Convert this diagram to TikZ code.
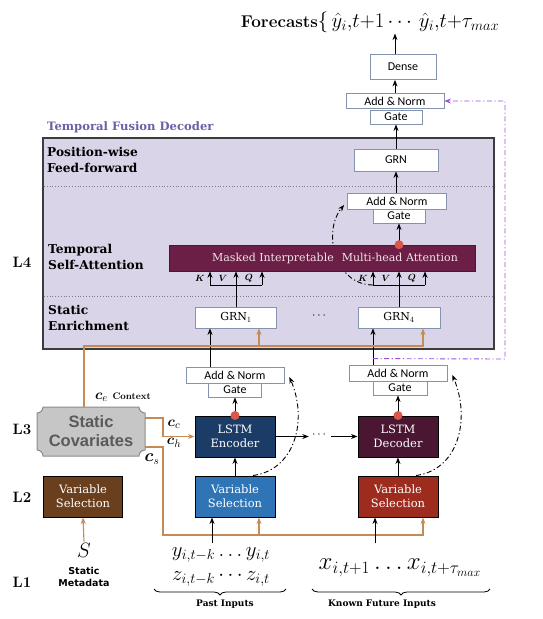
\documentclass[tikz,border=0pt]{standalone}
\usepackage{fontspec}
\usepackage{amsmath,bm}
\usetikzlibrary{arrows.meta,decorations.pathreplacing,calc}
\newfontfamily\carl{Carlito}
\newfontfamily\dser{DejaVu Serif}
\newfontfamily\lsans{Liberation Sans}
\newfontfamily\dsans{DejaVu Sans}
\newcommand\fsz[2]{\fontsize{#1}{#2}\selectfont}
\definecolor{lav}{HTML}{D9D4E7}
\definecolor{tfd}{HTML}{6B5FA8}
\definecolor{attc}{HTML}{6C1F46}
\definecolor{attt}{HTML}{F4E1EA}
\definecolor{encc}{HTML}{1A3C66}
\definecolor{decc}{HTML}{4A1632}
\definecolor{vss}{HTML}{6A3F1E}
\definecolor{vsp}{HTML}{2F75B6}
\definecolor{vsf}{HTML}{9D2B1E}
\definecolor{orl}{HTML}{C58A55}
\definecolor{redd}{HTML}{D9584A}
\definecolor{purp}{HTML}{9B4FE0}
\definecolor{bordc}{HTML}{8594AE}
\definecolor{scf}{HTML}{C6C6C6}
\definecolor{scd}{HTML}{8C8C8C}
\definecolor{sct}{HTML}{5A5A5A}
\definecolor{framec}{HTML}{3C3C3C}
\begin{document}
\begin{tikzpicture}[x=1pt,y=-1pt,
  arr/.style={-{Stealth[length=6.5pt,width=5pt]},line width=0.9pt},
  oarr/.style={-{Stealth[length=6.5pt,width=5pt]},line width=1.1pt,draw=orl},
  oline/.style={line width=1.1pt,draw=orl},
  wbox/.style={draw=bordc,fill=white,line width=0.8pt,inner sep=0pt,font=\carl\fsz{12}{14}},
  cbox/.style={draw=black,line width=1pt,inner sep=0pt,text=white,align=center,font=\dser\fsz{11.5}{14},minimum width=80,minimum height=41},
  seclab/.style={font=\dser\bfseries\fsz{12.2}{16.5},align=left,anchor=north west,inner sep=0pt},
  Llab/.style={font=\bfseries\fsz{15}{17},inner sep=0pt},
  ddline/.style={line width=0.9pt,dash pattern=on 5pt off 2.5pt on 1.2pt off 2.5pt},
  rdot/.style={circle,fill=redd,inner sep=0pt,minimum size=9pt},
  brc/.style={decorate,decoration={brace,amplitude=6pt,mirror},line width=0.8pt},
  kvq/.style={font=\fsz{9.5}{10},inner sep=0pt},
]
\useasboundingbox (0,0) rectangle (542,619);
% decoder frame
\draw[fill=lav,draw=framec,line width=1.2pt] (43,138) rectangle (494,349);
\draw[gray,line width=0.8pt,dash pattern=on 0.8pt off 2pt] (44,186) -- (493,186);
\draw[gray,line width=0.8pt,dash pattern=on 0.8pt off 2pt] (44,296) -- (493,296);
\node[font=\dser\bfseries\fsz{11.6}{13},text=tfd,anchor=west,inner sep=0pt] (tfdl) at (47,127) {Temporal Fusion Decoder};
\node[seclab] (pw) at (47,147) {Position-wise\\Feed-forward};
\node[seclab] (tsa) at (48,244) {Temporal\\Self-Attention};
\node[seclab] (se) at (48,305) {Static\\Enrichment};
% L labels
\node[Llab] (L4) at (22,262) {L4};
\node[Llab] (L3) at (22,429) {L3};
\node[Llab] (L2) at (22,497) {L2};
\node[Llab] (L1) at (22,582) {L1};
% title
\node[inner sep=1pt] (fc) at (370,22) {\fsz{17}{20}\textbf{Forecasts}\fsz{21}{24}$\{\,\hat{y}_i{,}t{+}1\cdots\,\hat{y}_i{,}t{+}\tau_{max}$};
% top stack
\node[wbox,minimum width=66,minimum height=25] (dense) at (403,67) {Dense};
\node[wbox,minimum width=98,minimum height=15] (an3) at (395,101) {Add \& Norm};
\node[wbox,minimum width=52,minimum height=14] (g3) at (396,117) {Gate};
\node[wbox,minimum width=84,minimum height=22] (grn) at (396,160) {GRN};
\node[wbox,minimum width=99,minimum height=16] (an2) at (397,201) {Add \& Norm};
\node[wbox,minimum width=52,minimum height=14] (g2) at (399,216) {Gate};
% attention residual
\coordinate (kR) at (373,285);
\draw[ddline,-{Stealth[length=6.5pt,width=5pt]}] (kR) .. controls (335,285) and (322,232) .. ($(an2.west)+(-3,4)$);
\node[fill=attc,draw=attc!70!black,line width=0.6pt,minimum width=306,minimum height=26,inner sep=0pt,text=attt,font=\dser\fsz{11}{12}] (att) at (322,258) {\hspace*{26pt}Masked Interpretable\hspace{8pt}Multi-head Attention};
\node[wbox,font=\dser\fsz{11}{12},minimum width=81,minimum height=21] (grn1) at (236,317.5) {GRN$_1$};
\node[wbox,font=\dser\fsz{11}{12},minimum width=82,minimum height=21] (grn4) at (399,317.5) {GRN$_4$};
\node[font=\fsz{12}{14}] (edots) at (320,316) {$\cdots$};
% K V Q left
\coordinate (b1) at (236,285);
\draw[arr] (grn1.north) -- (grn1.north |- att.south);
\draw[line width=0.9pt] ([xshift=-26pt]b1) -- ([xshift=26pt]b1);
\draw[arr] ([xshift=-26pt]b1) -- ([xshift=-26pt]b1 |- att.south);
\draw[arr] ([xshift=26pt]b1) -- ([xshift=26pt]b1 |- att.south);
\node[kvq] (k1) at (200,278) {$\bm{K}$};
\node[kvq] (v1) at (223,278) {$\bm{V}$};
\node[kvq] (q1) at (249,278) {$\bm{Q}$};
% K V Q right
\coordinate (b4) at (399,285);
\draw[arr] (grn4.north) -- (grn4.north |- att.south);
\draw[line width=0.9pt] ([xshift=-26pt]b4) -- ([xshift=26pt]b4);
\draw[arr] ([xshift=-26pt]b4) -- ([xshift=-26pt]b4 |- att.south);
\draw[arr] ([xshift=26pt]b4) -- ([xshift=26pt]b4 |- att.south);
\node[kvq] (k4) at (363,278) {$\bm{K}$};
\node[kvq] (v4) at (386,278) {$\bm{V}$};
\node[kvq] (q4) at (412,278) {$\bm{Q}$};
% top arrows
\draw[arr] (att.north -| g2.south) -- (g2.south);
\node[rdot] (dA) at (att.north -| g2.south) {};
\draw[arr] (an2.north -| grn.south) -- (grn.south);
\draw[arr] (grn.north) -- (g3.south -| grn.north);
\draw[arr] (an3.north) -- (dense.south -| an3.north);
\draw[arr] (dense.north -| an3.north) -- (fc.south -| an3.north);
% encoder / decoder
\node[wbox,minimum width=98,minimum height=16] (an1) at (235,375) {Add \& Norm};
\node[wbox,minimum width=53,minimum height=14] (g1) at (235,390) {Gate};
\node[wbox,minimum width=98,minimum height=16] (anD) at (398,373) {Add \& Norm};
\node[wbox,minimum width=54,minimum height=14] (gD) at (400,388) {Gate};
\node[cbox,fill=encc] (lstmE) at (235,436.5) {LSTM\\Encoder};
\node[cbox,fill=decc] (lstmD) at (398,436.5) {LSTM\\Decoder};
\node[cbox,fill=vss,minimum width=79] (vsS) at (83,496.5) {Variable\\Selection};
\node[cbox,fill=vsp] (vsP) at (235,496.5) {Variable\\Selection};
\node[cbox,fill=vsf] (vsF) at (398,496.5) {Variable\\Selection};
\draw[arr] (vsP.north) -- (lstmE.south);
\draw[arr] (vsF.north) -- (lstmD.south);
\draw[arr] (lstmE.north) -- (g1.south);
\node[rdot] (dE) at (lstmE.north) {};
\draw[arr] (lstmD.north) -- (gD.south -| lstmD.north);
\node[rdot] (dD) at (lstmD.north) {};
\draw[arr] ([xshift=-25pt]an1.north) -- ([xshift=-25pt]an1.north |- grn1.south);
\draw[arr] ([xshift=-25pt]anD.north) -- ([xshift=-25pt]anD.north |- grn4.south);
\draw[ddline,-{Stealth[length=6.5pt,width=5pt]}] ([xshift=18pt]vsP.north) .. controls (295,470) and (308,420) .. ($(an1.east)+(5,2)$);
\draw[ddline,-{Stealth[length=6.5pt,width=5pt]}] ([xshift=18pt]vsF.north) .. controls (458,470) and (471,420) .. ($(anD.east)+(5,2)$);
\node[font=\fsz{12}{14},inner sep=3pt] (ldots) at (320,435) {$\cdots$};
\draw[arr] (lstmE.east) -- (ldots.west |- lstmE.east);
\draw[arr] (ldots.east |- lstmD.west) -- (lstmD.west);
% purple skip
\coordinate (pst) at ($(anD.north)+(-25,-6)$);
\coordinate (pc1) at (505,359);
\coordinate (pc2) at (505,101);
\draw[ddline,draw=purp,-{Stealth[length=6.5pt,width=5pt]}] (pst) -- (pc1) -- (pc2) -- (an3.east);
% static covariates
\path[fill=scf,draw=scd,line width=1pt] (43,407) -- (139,407) .. controls (139,410.3) and (141.7,413) .. (145,413) -- (145,450) .. controls (141.7,450) and (139,452.7) .. (139,456) -- (43,456) .. controls (43,452.7) and (40.3,450) .. (37,450) -- (37,413) .. controls (40.3,413) and (43,410.3) .. (43,407) -- cycle;
\node[font=\lsans\bfseries\fsz{16.5}{19},text=sct,align=center,inner sep=0pt,minimum width=108,minimum height=49] (sc) at (91,431.5) {Static\\Covariates};
% orange context lines
\coordinate (ctxc) at (84,346);
\coordinate (o1) at (259,346);
\coordinate (o4) at (423,346);
\draw[oarr] (sc.north -| ctxc) -- (ctxc) -- (o4) -- (o4 |- grn4.south);
\draw[oarr] (o1) -- (o1 |- grn1.south);
\coordinate (cc1) at (145,418);
\coordinate (cc2) at (163,418);
\draw[oarr] (cc1) -- (cc2) -- (cc2 |- lstmE.west) -- (lstmE.west);
\coordinate (cs1) at (145,447);
\coordinate (cs2) at (163,447);
\coordinate (cs3) at (163,535);
\coordinate (s1) at (259,535);
\coordinate (s4) at (423,535);
\draw[oarr] (cs1) -- (cs2) -- (cs3) -- (s4) -- (s4 |- vsF.south);
\draw[oarr] (s1) -- (s1 |- vsP.south);
\node[inner sep=0pt] (cel) at (123,397) {\fsz{15}{17}$\bm{c}_e$ \textbf{\fsz{9.5}{10}Context}};
\node[font=\fsz{15}{17},inner sep=0pt] (ccl) at (174,424) {$\bm{c}_c$};
\node[font=\fsz{15}{17},inner sep=0pt] (chl) at (174,443) {$\bm{c}_h$};
\node[font=\fsz{16}{17},inner sep=0pt] (csl) at (152,459) {$\bm{c}_s$};
% inputs
\node[font=\fsz{20}{22},inner sep=1pt] (S) at (84,550) {$S$};
\draw[oarr] (S.north) -- (vsS.south);
\node[font=\dsans\bfseries\fsz{9.5}{12},align=center,inner sep=0pt] (meta) at (84,577) {Static\\Metadata};
\node[font=\fsz{22}{24.5},align=center,inner sep=0pt] (past) at (221,567) {$y_{i,t-k}\ldots y_{i,t}$\\$z_{i,t-k}\cdots z_{i,t}$};
\node[font=\fsz{24}{26},inner sep=0pt] (fut) at (400,568) {$x_{i,t+1}\ldots x_{i,t+\tau_{max}}$};
\draw[arr] ([xshift=-23pt]vsP.south |- 0,543) -- ([xshift=-23pt]vsP.south);
\draw[arr] ([xshift=-23pt]vsF.south |- 0,543) -- ([xshift=-23pt]vsF.south);
\draw[brc] (154,589) -- (286,589);
\draw[brc] (312,589) -- (490,589);
\node[font=\dser\bfseries\fsz{9}{11},inner sep=0pt] (pin) at (225,604) {Past Inputs};
\node[font=\dser\bfseries\fsz{9}{11},inner sep=0pt] (kfi) at (382,604) {Known Future Inputs};
\end{tikzpicture}
\end{document}
